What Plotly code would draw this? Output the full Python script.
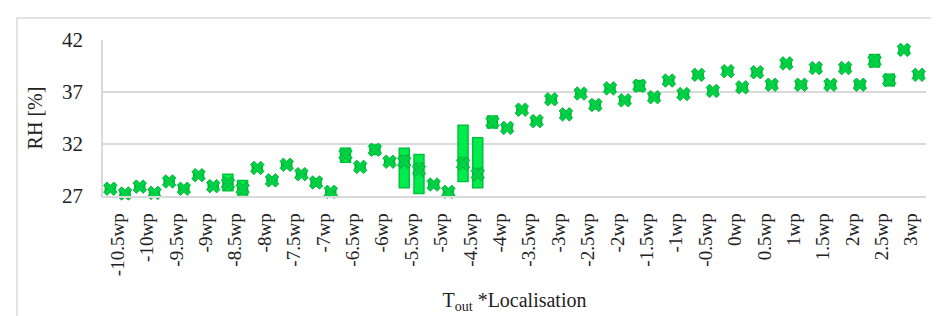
import plotly.graph_objects as go

categories = ["-10.5wp", "-10wp", "-9.5wp", "-9wp", "-8.5wp", "-8wp", "-7.5wp", "-7wp",
              "-6.5wp", "-6wp", "-5.5wp", "-5wp", "-4.5wp", "-4wp", "-3.5wp", "-3wp",
              "-2.5wp", "-2wp", "-1.5wp", "-1wp", "-0.5wp", "0wp", "0.5wp", "1wp",
              "1.5wp", "2wp", "2.5wp", "3wp"]

# first series in each category
mean_a = [27.7, 27.9, 28.4, 29.0, 28.2, 29.7, 30.0, 28.3, 31.0, 31.45, 30.3, 28.1, 30.1, 34.1,
          35.3, 36.3, 36.85, 37.35, 37.6, 38.1, 38.65, 39.0, 38.9, 39.75, 39.3, 39.3, 40.0, 41.05]
q1_a = [27.5, 27.7, 28.2, 28.8, 27.5, 29.5, 29.8, 27.95, 30.25, 31.0, 27.8, 27.9, 28.4, 33.55,
        35.1, 36.1, 36.65, 37.15, 37.1, 37.9, 38.45, 38.8, 38.7, 39.55, 39.1, 39.1, 39.4, 40.8]
med_a = [27.7, 27.9, 28.4, 29.0, 28.2, 29.7, 30.0, 28.3, 31.0, 31.45, 30.9, 28.1, 30.7, 34.1,
         35.3, 36.3, 36.85, 37.35, 37.6, 38.1, 38.65, 39.0, 38.9, 39.75, 39.3, 39.3, 40.0, 41.05]
q3_a = [27.9, 28.1, 28.6, 29.2, 29.1, 29.9, 30.2, 28.65, 31.6, 31.9, 31.6, 28.3, 33.8, 34.7,
        35.5, 36.5, 37.05, 37.55, 38.1, 38.3, 38.85, 39.2, 39.1, 39.95, 39.5, 39.5, 40.6, 41.3]

# second series in each category
mean_b = [27.24, 27.3, 27.7, 27.95, 27.7, 28.5, 29.1, 27.4, 29.8, 30.3, 29.5, 27.4, 29.1, 33.55,
          34.2, 34.85, 35.75, 36.2, 36.5, 36.8, 37.1, 37.45, 37.7, 37.7, 37.7, 37.7, 38.15, 38.65]
q1_b = [27.05, 27.1, 27.5, 27.75, 27.1, 28.3, 28.9, 27.2, 29.6, 30.1, 27.25, 27.2, 27.8, 33.35,
        34.0, 34.65, 35.4, 36.0, 36.3, 36.6, 36.9, 37.25, 37.5, 37.5, 37.5, 37.5, 37.6, 38.45]
med_b = [27.24, 27.3, 27.7, 27.95, 27.7, 28.5, 29.1, 27.4, 29.8, 30.3, 30.15, 27.4, 29.65, 33.55,
         34.2, 34.85, 35.75, 36.2, 36.5, 36.8, 37.1, 37.45, 37.7, 37.7, 37.7, 37.7, 38.15, 38.65]
q3_b = [27.45, 27.5, 27.9, 28.15, 28.5, 28.7, 29.3, 27.6, 30.0, 30.5, 31.0, 27.6, 32.6, 33.75,
        34.4, 35.05, 36.1, 36.4, 36.7, 37.0, 37.3, 37.65, 37.9, 37.9, 37.9, 37.9, 38.7, 38.85]

y_ticks = [27, 32, 37, 42]

FILL = "#00EC4C"
LINE = "#00C23C"
MARK = "#00D044"
GRID = "#D9D9D9"
FONT = "Liberation Serif"
TXT = "#222222"

fig = go.Figure()
for name, q1, med, q3 in [("a", q1_a, med_a, q3_a), ("b", q1_b, med_b, q3_b)]:
    fig.add_trace(go.Box(
        x=categories, q1=q1, median=med, q3=q3, lowerfence=q1, upperfence=q3,
        name=name, offsetgroup=name, fillcolor=FILL,
        line=dict(color=LINE, width=1.5), showlegend=False, hoverinfo="skip"))
for name, mean in [("a", mean_a), ("b", mean_b)]:
    fig.add_trace(go.Scatter(
        x=categories, y=mean, mode="markers", name=name, offsetgroup=name,
        marker=dict(symbol="x", size=12, color=MARK, line=dict(color="#00A832", width=0.8)),
        cliponaxis=False, showlegend=False))

fig.update_layout(
    width=939, height=316,
    margin=dict(l=95, r=21, t=32, b=128),
    paper_bgcolor="white", plot_bgcolor="white",
    boxmode="group", boxgap=0, boxgroupgap=0.32,
    scattermode="group", scattergap=0,
    font=dict(family=FONT, size=19, color=TXT),
    xaxis=dict(
        type="category", categoryorder="array", categoryarray=categories,
        tickangle=-90, tickfont=dict(family=FONT, size=19, color=TXT), showgrid=False,
        showline=True, linecolor=GRID, linewidth=1.5, ticks="", ticklabelstandoff=8,
        title=dict(text="T<sub>out</sub> *Localisation",
                   font=dict(family=FONT, size=20, color=TXT), standoff=18)),
    yaxis=dict(
        range=[27, 42], tickvals=y_ticks, ticktext=[str(v) for v in y_ticks],
        showgrid=True, gridcolor=GRID, gridwidth=1.5, zeroline=False,
        showline=True, linecolor=GRID, linewidth=1.5, ticks="", ticklabelstandoff=14,
        tickfont=dict(family=FONT, size=21, color=TXT),
        title=dict(text="RH [%]", font=dict(family=FONT, size=20, color=TXT), standoff=14)),
    shapes=[dict(type="rect", xref="paper", yref="paper",
                 x0=-0.1045, x1=1.03, y0=-0.95, y1=1.1413,
                 line=dict(color=GRID, width=1.5), layer="below")],
)

fig.write_html("out.html")
